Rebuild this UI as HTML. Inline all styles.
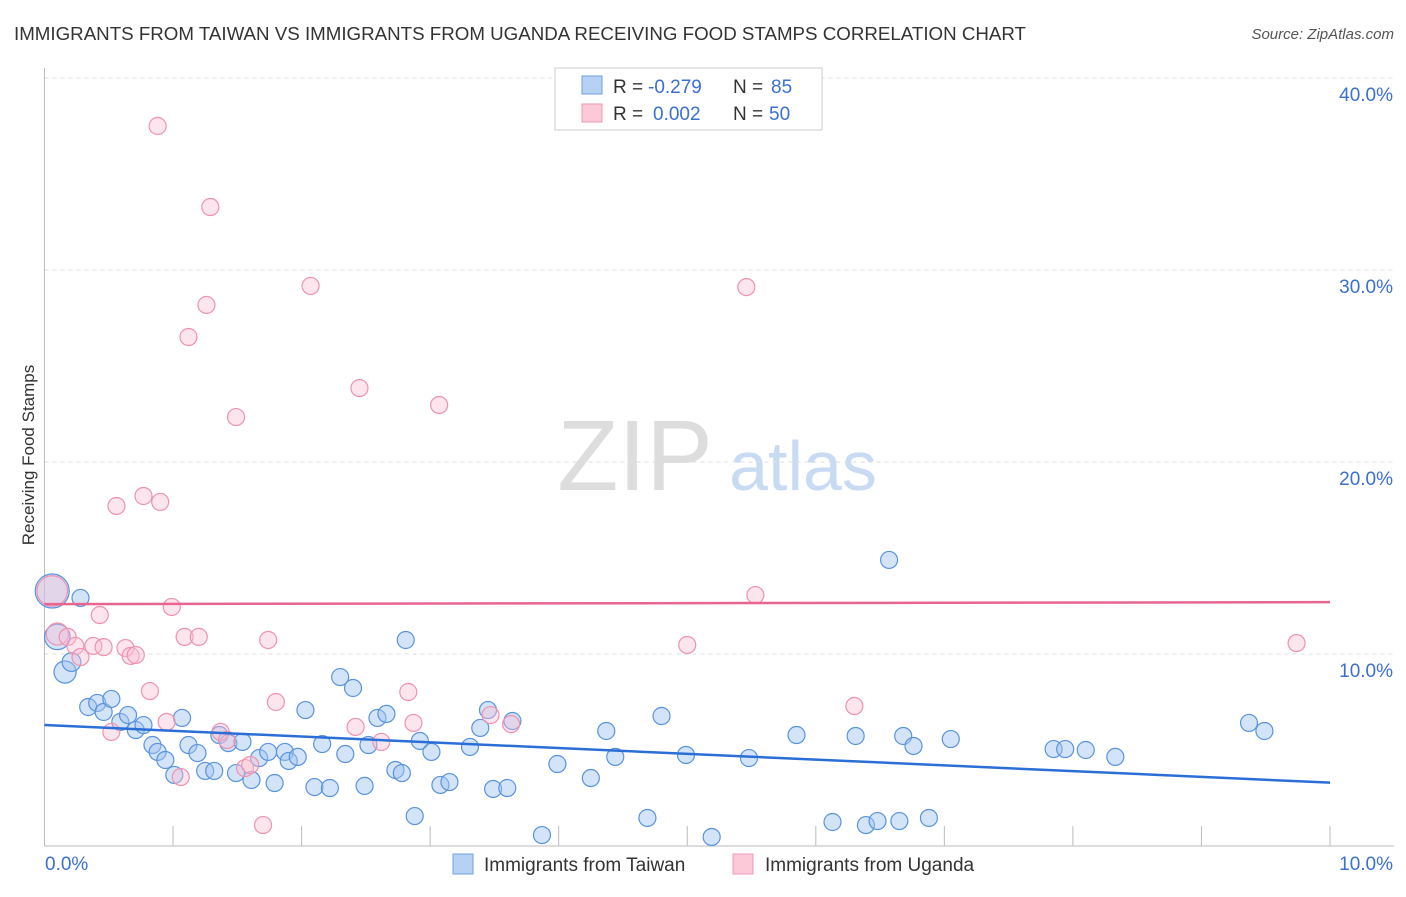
<!DOCTYPE html>
<html><head><meta charset="utf-8"><style>
body{margin:0;background:#fff;font-family:"Liberation Sans",sans-serif}
svg text{font-family:"Liberation Sans",sans-serif}
</style></head><body>
<svg id="chart" width="1406" height="892">
<text x="14" y="40" font-size="18" fill="#333" textLength="1012" lengthAdjust="spacingAndGlyphs">IMMIGRANTS FROM TAIWAN VS IMMIGRANTS FROM UGANDA RECEIVING FOOD STAMPS CORRELATION CHART</text>
<text x="1394" y="39" font-size="15" fill="#555" font-style="italic" text-anchor="end">Source: ZipAtlas.com</text>
<text x="34" y="455" font-size="17" fill="#333" text-anchor="middle" transform="rotate(-90 34 455)">Receiving Food Stamps</text>
<text x="635" y="490" font-size="100" fill="#ddd" font-family="Liberation Serif" text-anchor="middle">ZIP</text>
<text x="803" y="490" font-size="70" fill="#c9daf3" text-anchor="middle">atlas</text>
<g id="grid"></g><g id="marks"></g>
<g>
<rect x="555" y="68" width="267" height="62" fill="#fff" stroke="#ccc"/>
<rect x="582" y="76" width="20" height="18" fill="#b7d1f5" stroke="#6f9fe0"/>
<rect x="582" y="104" width="20" height="18" fill="#fbc9d8" stroke="#ee9ab5"/>
<text x="613" y="93" font-size="19" fill="#333">R =</text>
<text x="648" y="93" font-size="19" fill="#3a70d0">-0.279</text>
<text x="733" y="93" font-size="19" fill="#333">N =</text>
<text x="771" y="93" font-size="19" fill="#3a70d0">85</text>
<text x="613" y="120" font-size="19" fill="#333">R =</text>
<text x="653" y="120" font-size="19" fill="#3a70d0">0.002</text>
<text x="733" y="120" font-size="19" fill="#333">N =</text>
<text x="769" y="120" font-size="19" fill="#3a70d0">50</text>
</g>
<g>
<rect x="453" y="854" width="20" height="20" fill="#b7d1f5" stroke="#6f9fe0"/>
<text x="484" y="871" font-size="19" fill="#333">Immigrants from Taiwan</text>
<rect x="733" y="854" width="20" height="20" fill="#fbc9d8" stroke="#ee9ab5"/>
<text x="765" y="871" font-size="19" fill="#333">Immigrants from Uganda</text>
</g>
</svg>
<script>
const yTicks=[10,20,30,40];
const yTickLabels=["10.0%","20.0%","30.0%","40.0%"];
const xTickLabels=["0.0%","10.0%"];
const taiwanX=[0.06,0.28,0.10,0.16,0.21,0.34,0.41,0.46,0.52,0.59,0.65,0.71,0.77,0.84,0.88,0.94,1.01,1.07,1.12,1.19,1.25,1.32,1.36,1.43,1.49,1.54,1.61,1.67,1.74,1.79,1.87,1.90,1.97,2.03,2.10,2.16,2.22,2.30,2.40,2.34,2.49,2.52,2.59,2.66,2.73,2.78,2.81,2.88,2.92,3.01,3.08,3.15,3.31,3.39,3.45,3.49,3.60,3.64,3.87,3.99,4.25,4.37,4.44,4.69,4.80,4.99,5.19,5.48,5.85,6.13,6.31,6.39,6.48,6.57,6.65,6.68,6.76,6.88,7.05,7.85,7.94,8.10,8.33,9.37,9.49];
const taiwanY=[13.28,12.92,10.89,9.06,9.58,7.24,7.45,6.98,7.66,6.46,6.82,6.04,6.30,5.26,4.90,4.48,3.70,6.67,5.26,4.84,3.91,3.91,5.78,5.36,3.80,5.42,3.44,4.58,4.90,3.28,4.90,4.43,4.64,7.08,3.07,5.31,3.02,8.80,8.23,4.79,3.13,5.26,6.67,6.88,3.96,3.80,10.73,1.56,5.47,4.90,3.18,3.33,5.16,6.15,7.08,2.97,3.02,6.51,0.57,4.27,3.54,5.99,4.64,1.46,6.77,4.74,0.47,4.58,5.78,1.25,5.73,1.09,1.30,14.90,1.30,5.73,5.21,1.46,5.57,5.05,5.05,5.00,4.64,6.41,5.99];
const taiwanSize=[2,1,1.5,1.3,1.1];
const ugandaX=[0.06,0.10,0.18,0.24,0.28,0.38,0.43,0.46,0.52,0.56,0.63,0.67,0.71,0.77,0.82,0.88,0.90,0.95,0.99,1.06,1.09,1.12,1.20,1.26,1.29,1.37,1.42,1.49,1.56,1.60,1.70,1.74,1.80,2.07,2.42,2.45,2.62,2.83,2.87,3.07,3.47,3.63,5.00,5.46,5.53,6.30,9.74];
const ugandaY=[13.28,11.04,10.89,10.42,9.84,10.42,12.03,10.36,5.94,17.71,10.31,9.90,9.95,18.23,8.07,37.50,17.92,6.46,12.45,3.59,10.89,26.51,10.89,28.18,33.28,5.94,5.52,22.34,4.06,4.22,1.09,10.73,7.50,29.17,6.20,23.85,5.42,8.02,6.41,22.97,6.82,6.35,10.47,29.11,13.07,7.29,10.57];
const ugandaSize=[1.8,1.3];
const taiwanTrend=[6.3,3.3];
const ugandaTrend=[12.6,12.7];
const X0=44.5,X1=1330,Y0=846,PY=19.2;
const sx=v=>X0+(X1-X0)*v/10, sy=v=>Y0-v*PY;
const NS="http://www.w3.org/2000/svg";
const grid=document.getElementById('grid'), marks=document.getElementById('marks');
function mk(tag,at,parent){const e=document.createElementNS(NS,tag);for(const k in at)e.setAttribute(k,at[k]);parent.appendChild(e);return e;}
yTicks.forEach((t,i)=>{
 const l=mk('line',{x1:X0,x2:1394,y1:sy(t),y2:sy(t),stroke:'#ddd','stroke-dasharray':'4,4'},grid);
 
 
 const tx=mk('text',{x:1393,y:sy(t)+23,'font-size':19,fill:'#3a70d0','text-anchor':'end'},grid);
 tx.textContent=yTickLabels[i];
 
 
});
const ax=mk('line',{x1:X0,x2:X0,y1:68,y2:Y0,stroke:'#bbb'},grid);


const bx=mk('line',{x1:X0,x2:1394,y1:Y0,y2:Y0,stroke:'#bbb'},grid);


for(let i=1;i<=10;i++){const t=mk('line',{x1:sx(i),x2:sx(i),y1:Y0-20,y2:Y0,stroke:'#bbb'},grid);
 
 }
[[0,'start',45],[10,'end',1393]].forEach((d,i)=>{const t=mk('text',{x:d[2],y:870,'font-size':19,fill:'#3a70d0','text-anchor':d[1]},grid);t.textContent=xTickLabels[i];
 
 });
function pts(xs,ys,sz,fill,stroke,name){xs.forEach((x,i)=>{const c=mk('circle',{cx:sx(x),cy:sy(ys[i]),r:8.5*(sz[i]||1),fill:fill,stroke:stroke,'stroke-width':1.2},marks);
 
 });}
pts(taiwanX,taiwanY,taiwanSize,'rgba(160,195,240,0.45)','#5a93dd','taiwan-point');
pts(ugandaX,ugandaY,ugandaSize,'rgba(250,190,210,0.4)','#ee92b0','uganda-point');
const l1=mk('line',{x1:sx(0),x2:sx(10),y1:sy(taiwanTrend[0]),y2:sy(taiwanTrend[1]),stroke:'#2b6fd6','stroke-width':2.5},marks);


const l2=mk('line',{x1:sx(0),x2:sx(10),y1:sy(ugandaTrend[0]),y2:sy(ugandaTrend[1]),stroke:'#e8658f','stroke-width':2.5},marks);


</script>
</body></html>
